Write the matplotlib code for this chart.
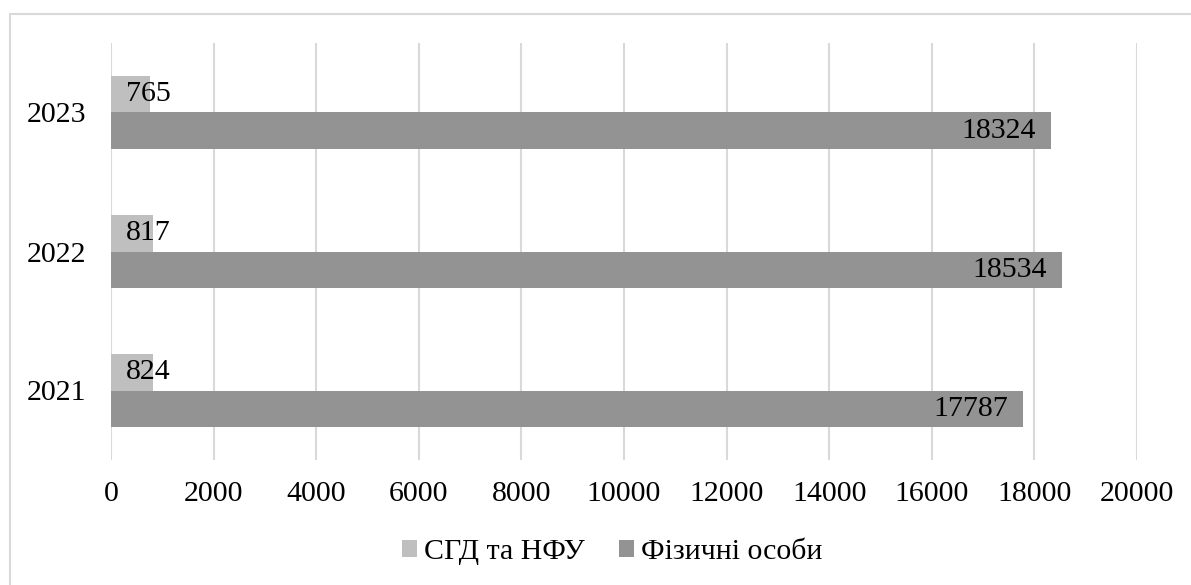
import matplotlib.pyplot as plt
from matplotlib.patches import Rectangle
import numpy as np

years = ["2021", "2022", "2023"]
legal = [824, 817, 765]            # СГД та НФУ
persons = [17787, 18534, 18324]    # Фізичні особи
series_names = ["СГД та НФУ", "Фізичні особи"]

light = "#BFBFBF"
dark = "#939393"
grid = "#D9D9D9"

plt.rcParams['font.family'] = ['Liberation Serif', 'DejaVu Serif']
plt.rcParams['font.size'] = 21.5

fig = plt.figure(figsize=(11.91, 5.85), dpi=100)
W, H = 1191, 585
ax = fig.add_axes([111 / W, 1 - 460 / H, (1137 - 111) / W, (460 - 43) / H])

# outer chart frame (only top and left edges fall inside the canvas)
fig.patches.append(Rectangle((9.5 / W, -0.1), 1.2, 1 - 14 / H + 0.1,
                             transform=fig.transFigure, fill=False,
                             edgecolor=grid, linewidth=1.5))

y = np.arange(len(years))
h = 0.266
b1 = ax.barh(y + h / 2, legal, height=h, color=light, label=series_names[0], zorder=3)
b2 = ax.barh(y - h / 2, persons, height=h, color=dark, label=series_names[1], zorder=3)

for bar, v in zip(b1, legal):
    ax.annotate(str(v), (0, bar.get_y() + bar.get_height() / 2),
                xytext=(11, 0), textcoords="offset points",
                ha="left", va="center", zorder=4)
for bar, v in zip(b2, persons):
    ax.annotate(str(v), (bar.get_width(), bar.get_y() + bar.get_height() / 2),
                xytext=(-11, 0), textcoords="offset points",
                ha="right", va="center", zorder=4)

ax.set_xlim(0, 20000)
ax.set_ylim(-0.5, 2.5)
ax.set_xticks(range(0, 20001, 2000))
ax.set_yticks(y)
ax.set_yticklabels(years)
ax.grid(axis="x", color=grid, linewidth=1.5, zorder=0)
for s in ax.spines.values():
    s.set_visible(False)
ax.tick_params(axis="x", length=0, pad=15)
ax.tick_params(axis="y", length=0, pad=18)

fig.legend(handles=[b1, b2], loc="center", bbox_to_anchor=(612 / W, 1 - 552 / H),
           ncol=2, frameon=False, handlelength=0.5, handleheight=0.5,
           handletextpad=0.23, columnspacing=1.15, borderpad=0, borderaxespad=0)

fig.savefig("out.png", dpi=100)
